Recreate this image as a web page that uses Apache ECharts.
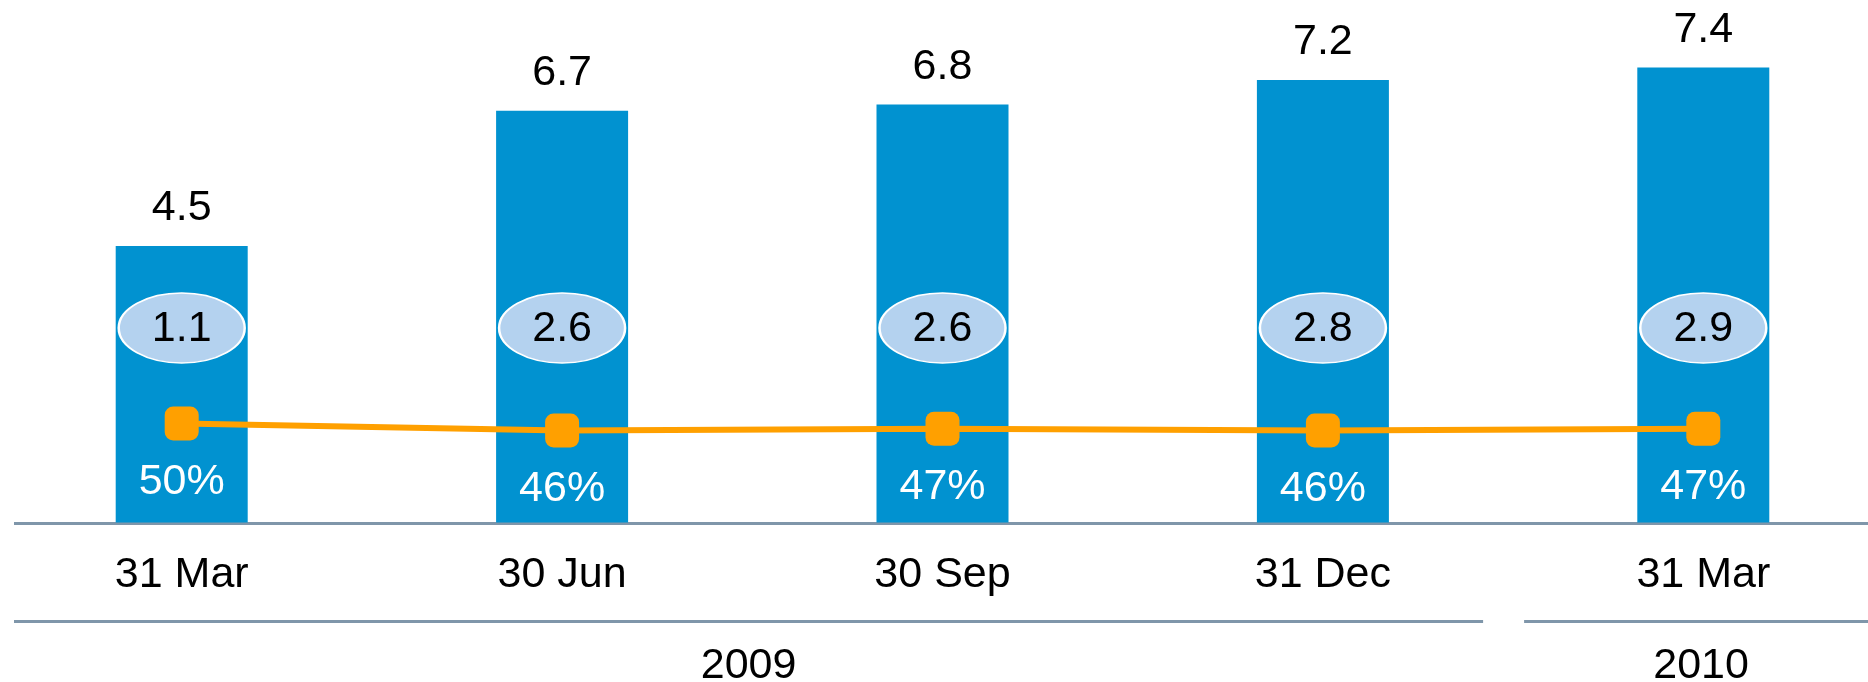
<!DOCTYPE html>
<html><head><meta charset="utf-8">
<script src="https://cdn.jsdelivr.net/npm/echarts@6/dist/echarts.min.js"></script>
<style>html,body{margin:0;padding:0;background:#fff}#c{width:1868px;height:682px}</style>
</head><body><div id="c"></div>
<script>
const categories = ['31 Mar', '30 Jun', '30 Sep', '31 Dec', '31 Mar'];
const totalValues = [4.5, 6.7, 6.8, 7.2, 7.4];
const ellipseValues = [1.1, 2.6, 2.6, 2.8, 2.9];
const percentValues = [50, 46, 47, 46, 47];
const yearLabels = ['2009', '2010'];
const yearFirstIndex = [0, 4];
const yearLastIndex = [3, 4];

const FONT = '"Liberation Sans", Arial, Helvetica, sans-serif';
const FS = 43;
const BAR = '#0192d0';
const ORANGE = '#ffa000';
const RULE = '#7f96aa';

const chart = echarts.init(document.getElementById('c'), null, {renderer: 'canvas'});

const option = {
  animation: false,
  backgroundColor: '#fff',
  grid: {left: -8.5, right: -25.5, top: 0, bottom: 159.5, containLabel: false, outerBoundsMode: 'none'},
  xAxis: {
    type: 'category', data: categories, boundaryGap: true,
    axisLine: {show: false}, axisTick: {show: false}, splitLine: {show: false},
    axisLabel: {interval: 0, color: '#000', fontSize: FS, fontFamily: FONT, margin: 31}
  },
  yAxis: [
    {type: 'value', min: 0, max: 8.5, show: false},
    {type: 'value', min: -5, max: 285, show: false}
  ],
  series: [
    {
      type: 'bar', data: totalValues, barWidth: 132, z: 2,
      itemStyle: {color: BAR},
      label: {show: true, position: 'top', distance: 16, color: '#000', fontSize: FS, fontFamily: FONT}
    },
    {
      type: 'custom', z: 4, clip: false,
      data: ellipseValues.map((v, i) => [i, v]),
      encode: {x: 0, y: 1},
      renderItem: function (params, api) {
        const base = api.coord([api.value(0), 0]);
        const cx = base[0], cy = base[1] - 194.5;
        const rx = 63, ry = 35;
        return {
          type: 'group',
          children: [
            {
              type: 'circle',
              shape: {cx: 0, cy: 0, r: rx},
              x: cx, y: cy, scaleX: 1, scaleY: ry / rx,
              style: {fill: '#b4d2ef', stroke: '#ffffff', lineWidth: 2.5, strokeNoScale: true},
              z2: 1
            },
            {
              type: 'text',
              x: cx, y: cy + 1,
              style: {text: String(api.value(1)), align: 'center', verticalAlign: 'middle',
                fill: '#000', fontSize: FS, fontFamily: FONT},
              z2: 2
            }
          ]
        };
      }
    },
    {
      type: 'line', yAxisIndex: 1, data: percentValues, z: 5,
      symbol: 'roundRect', symbolSize: 34,
      lineStyle: {color: ORANGE, width: 6},
      itemStyle: {color: ORANGE},
      label: {show: true, position: 'bottom', distance: 20, formatter: '{c}%', color: '#fff', fontSize: FS, fontFamily: FONT}
    }
  ]
};
chart.setOption(option);

const baseY = chart.convertToPixel({yAxisIndex: 0}, 0);
const xs = categories.map((c, i) => chart.convertToPixel({xAxisIndex: 0}, i));
const lastIdx = categories.length - 1;
const graphics = [];
graphics.push({type: 'line', shape: {x1: 14, y1: baseY + 1, x2: 1868, y2: baseY + 1}, style: {stroke: RULE, lineWidth: 3}, silent: true});
yearLabels.forEach((lab, g) => {
  const a = yearFirstIndex[g], b = yearLastIndex[g];
  const start = a === 0 ? 14 : (xs[a - 1] + xs[a]) / 2 + 11;
  const end = b === lastIdx ? 1868 : (xs[b] + xs[b + 1]) / 2 - 30;
  graphics.push({type: 'line', shape: {x1: start, y1: baseY + 99, x2: end, y2: baseY + 99}, style: {stroke: RULE, lineWidth: 3}, silent: true});
  graphics.push({type: 'text', style: {text: lab, x: (start + end) / 2 + (g === 1 ? 5 : 0), y: baseY + 144, align: 'center', verticalAlign: 'middle', fill: '#000', font: FS + 'px ' + FONT}, silent: true});
});
chart.setOption({graphic: graphics});
</script>
</body></html>
